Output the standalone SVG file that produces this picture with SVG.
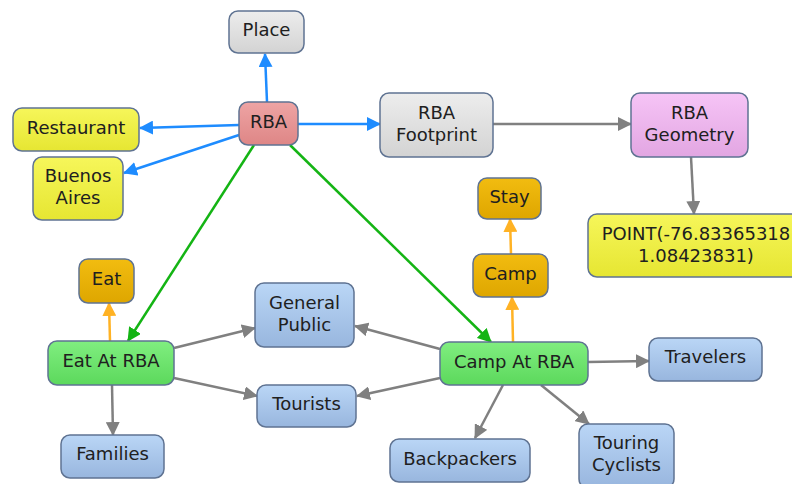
<svg xmlns="http://www.w3.org/2000/svg" width="792" height="484" viewBox="0 0 792 484">
  <defs>
    <linearGradient id="gGrey" x1="0" y1="0" x2="0" y2="1"><stop offset="0" stop-color="#ededed"/><stop offset="1" stop-color="#d3d3d3"/></linearGradient>
    <linearGradient id="gPink" x1="0" y1="0" x2="0" y2="1"><stop offset="0" stop-color="#eea4a4"/><stop offset="1" stop-color="#de8686"/></linearGradient>
    <linearGradient id="gYellow" x1="0" y1="0" x2="0" y2="1"><stop offset="0" stop-color="#f6f65a"/><stop offset="1" stop-color="#e6e632"/></linearGradient>
    <linearGradient id="gOrange" x1="0" y1="0" x2="0" y2="1"><stop offset="0" stop-color="#f2bc10"/><stop offset="1" stop-color="#dea600"/></linearGradient>
    <linearGradient id="gBlue" x1="0" y1="0" x2="0" y2="1"><stop offset="0" stop-color="#bad6f6"/><stop offset="1" stop-color="#98b6de"/></linearGradient>
    <linearGradient id="gGreen" x1="0" y1="0" x2="0" y2="1"><stop offset="0" stop-color="#80ee80"/><stop offset="1" stop-color="#5cd85c"/></linearGradient>
    <linearGradient id="gViolet" x1="0" y1="0" x2="0" y2="1"><stop offset="0" stop-color="#f6c4f6"/><stop offset="1" stop-color="#e2a6e2"/></linearGradient>
    <marker id="aBlue" viewBox="0 0 14 14" refX="13" refY="7" markerWidth="14" markerHeight="14" markerUnits="userSpaceOnUse" orient="auto"><path d="M0,0 L14,7 L0,14 z" fill="#1e8cff"/></marker>
    <marker id="aGreen" viewBox="0 0 14 14" refX="13" refY="7" markerWidth="14" markerHeight="14" markerUnits="userSpaceOnUse" orient="auto"><path d="M0,0 L14,7 L0,14 z" fill="#14b414"/></marker>
    <marker id="aOrange" viewBox="0 0 14 14" refX="13" refY="7" markerWidth="14" markerHeight="14" markerUnits="userSpaceOnUse" orient="auto"><path d="M0,0 L14,7 L0,14 z" fill="#ffb224"/></marker>
    <marker id="aGrey" viewBox="0 0 14 14" refX="13" refY="7" markerWidth="14" markerHeight="14" markerUnits="userSpaceOnUse" orient="auto"><path d="M0,0 L14,7 L0,14 z" fill="#808080"/></marker>
  </defs>
  <style>
    .node rect { stroke: #5f7392; stroke-width: 1.5; }
    .node text { font-family: "DejaVu Sans", Verdana, sans-serif; font-size: 18px; fill: #202020; text-anchor: middle; }
    .blue { stroke: #1e8cff; stroke-width: 2.5; fill: none; marker-end: url(#aBlue); }
    .green { stroke: #14b414; stroke-width: 2.5; fill: none; marker-end: url(#aGreen); }
    .orange { stroke: #ffb224; stroke-width: 2.5; fill: none; marker-end: url(#aOrange); }
    .grey { stroke: #808080; stroke-width: 2.5; fill: none; marker-end: url(#aGrey); }
  </style>
  <rect width="792" height="484" fill="#ffffff"/>

  <g id="connectors">
    <line class="blue" x1="267" y1="102" x2="265" y2="54"/>
    <line class="blue" x1="239" y1="125" x2="140" y2="128"/>
    <line class="blue" x1="239" y1="135" x2="124" y2="173"/>
    <line class="blue" x1="298" y1="124" x2="380" y2="124"/>
    <line class="green" x1="254" y1="145" x2="128" y2="341"/>
    <line class="green" x1="290" y1="145" x2="491" y2="342"/>
    <line class="grey" x1="493" y1="124" x2="631" y2="124"/>
    <line class="grey" x1="691" y1="157" x2="694" y2="214"/>
    <line class="orange" x1="511" y1="254" x2="510" y2="219"/>
    <line class="orange" x1="513" y1="342" x2="512" y2="297"/>
    <line class="orange" x1="110" y1="341" x2="109" y2="303"/>
    <line class="grey" x1="174" y1="348" x2="255" y2="328"/>
    <line class="grey" x1="174" y1="378" x2="257" y2="396"/>
    <line class="grey" x1="112" y1="385" x2="113" y2="435"/>
    <line class="grey" x1="440" y1="349" x2="355" y2="326"/>
    <line class="grey" x1="440" y1="378" x2="357" y2="396"/>
    <line class="grey" x1="588" y1="362" x2="649" y2="361"/>
    <line class="grey" x1="503" y1="385" x2="475" y2="438"/>
    <line class="grey" x1="541" y1="385" x2="589" y2="424"/>
  </g>

  <g id="place" class="node"><rect x="229" y="11" width="75" height="42" rx="9" fill="url(#gGrey)"/><text x="266.5" y="36">Place</text></g>
  <g id="rba" class="node"><rect x="239" y="102" width="59" height="43" rx="9" fill="url(#gPink)"/><text x="268.5" y="127.5">RBA</text></g>
  <g id="restaurant" class="node"><rect x="13" y="108" width="126" height="43" rx="9" fill="url(#gYellow)"/><text x="76" y="133.5">Restaurant</text></g>
  <g id="buenos-aires" class="node"><rect x="33" y="157" width="90" height="63" rx="9" fill="url(#gYellow)"/><text x="78" y="182">Buenos</text><text x="78" y="204">Aires</text></g>
  <g id="rba-footprint" class="node"><rect x="380" y="93" width="113" height="64" rx="9" fill="url(#gGrey)"/><text x="436.5" y="119">RBA</text><text x="436.5" y="141">Footprint</text></g>
  <g id="rba-geometry" class="node"><rect x="631" y="93" width="117" height="64" rx="9" fill="url(#gViolet)"/><text x="689.5" y="119">RBA</text><text x="689.5" y="141">Geometry</text></g>
  <g id="point" class="node"><rect x="588" y="214" width="216" height="63" rx="9" fill="url(#gYellow)"/><text x="696" y="240">POINT(-76.83365318</text><text x="696" y="262">1.08423831)</text></g>
  <g id="stay" class="node"><rect x="478" y="178" width="63" height="41" rx="9" fill="url(#gOrange)"/><text x="509.5" y="203">Stay</text></g>
  <g id="camp" class="node"><rect x="473" y="254" width="75" height="43" rx="9" fill="url(#gOrange)"/><text x="510.5" y="279.5">Camp</text></g>
  <g id="eat" class="node"><rect x="79" y="259" width="55" height="44" rx="9" fill="url(#gOrange)"/><text x="106.5" y="284.5">Eat</text></g>
  <g id="eat-at-rba" class="node"><rect x="48" y="341" width="126" height="44" rx="9" fill="url(#gGreen)"/><text x="111" y="366.5">Eat At RBA</text></g>
  <g id="general-public" class="node"><rect x="255" y="283" width="99" height="64" rx="9" fill="url(#gBlue)"/><text x="304.5" y="309">General</text><text x="304.5" y="331">Public</text></g>
  <g id="tourists" class="node"><rect x="257" y="385" width="99" height="42" rx="9" fill="url(#gBlue)"/><text x="306.5" y="410">Tourists</text></g>
  <g id="families" class="node"><rect x="61" y="435" width="103" height="43" rx="9" fill="url(#gBlue)"/><text x="112.5" y="460">Families</text></g>
  <g id="camp-at-rba" class="node"><rect x="440" y="342" width="148" height="43" rx="9" fill="url(#gGreen)"/><text x="514" y="367.5">Camp At RBA</text></g>
  <g id="travelers" class="node"><rect x="649" y="338" width="113" height="43" rx="9" fill="url(#gBlue)"/><text x="705.5" y="363">Travelers</text></g>
  <g id="backpackers" class="node"><rect x="390" y="439" width="140" height="43" rx="9" fill="url(#gBlue)"/><text x="460" y="464.5">Backpackers</text></g>
  <g id="touring-cyclists" class="node"><rect x="579" y="424" width="95" height="64" rx="9" fill="url(#gBlue)"/><text x="626.5" y="449">Touring</text><text x="626.5" y="471">Cyclists</text></g>
</svg>
